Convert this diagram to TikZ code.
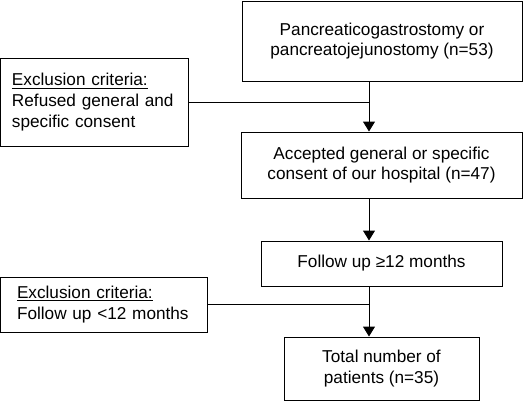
\documentclass[tikz,border=0pt]{standalone}
\usepackage{fontspec}
\setmainfont{Liberation Sans}
\usetikzlibrary{arrows.meta}
\begin{document}
\begin{tikzpicture}[x=0.75pt,y=-0.75pt,
  box/.style={draw,line width=0.75pt,inner sep=0pt,align=center,
    font=\fontsize{12.9}{15.5}\selectfont},
  exbox/.style={box,align=left},
  conn/.style={line width=0.75pt},
  arr/.style={conn,-{Triangle[width=9pt,length=7.5pt]}}]
\useasboundingbox (0,0) rectangle (530,401);
\node[box,minimum width=280*0.75pt,minimum height=80*0.75pt] (top) at (382,41)
  {Pancreaticogastrostomy or\\pancreatojejunostomy (n=53)};
\node[exbox,minimum width=188*0.75pt,minimum height=88*0.75pt,text width=165*0.75pt] (ex1) at (94.5,102)
  {\underline{Exclusion criteria:}\\Refused general and\\specific consent};
\node[box,minimum width=281*0.75pt,minimum height=66*0.75pt] (acc) at (381.5,165)
  {Accepted general or specific\\consent of our hospital (n=47)};
\node[box,minimum width=241*0.75pt,minimum height=45*0.75pt] (fu) at (381.5,263.5)
  {Follow up ≥12 months};
\node[exbox,minimum width=207*0.75pt,minimum height=55*0.75pt,text width=174*0.75pt] (ex2) at (104,304.5)
  {\underline{Exclusion criteria:}\\Follow up <12 months};
\node[box,minimum width=195*0.75pt,minimum height=63*0.75pt] (tot) at (381.5,368.5)
  {Total number of\\patients (n=35)};
\coordinate (ax) at (369,0);
\draw[arr] (ax |- top.south) -- (ax |- acc.north);
\draw[conn] (ex1.east) -- (ax |- ex1.east);
\draw[arr] (ax |- acc.south) -- (ax |- fu.north);
\draw[arr] (ax |- fu.south) -- (ax |- tot.north);
\draw[conn] (ex2.east) -- (ax |- ex2.east);
\end{tikzpicture}
\end{document}
